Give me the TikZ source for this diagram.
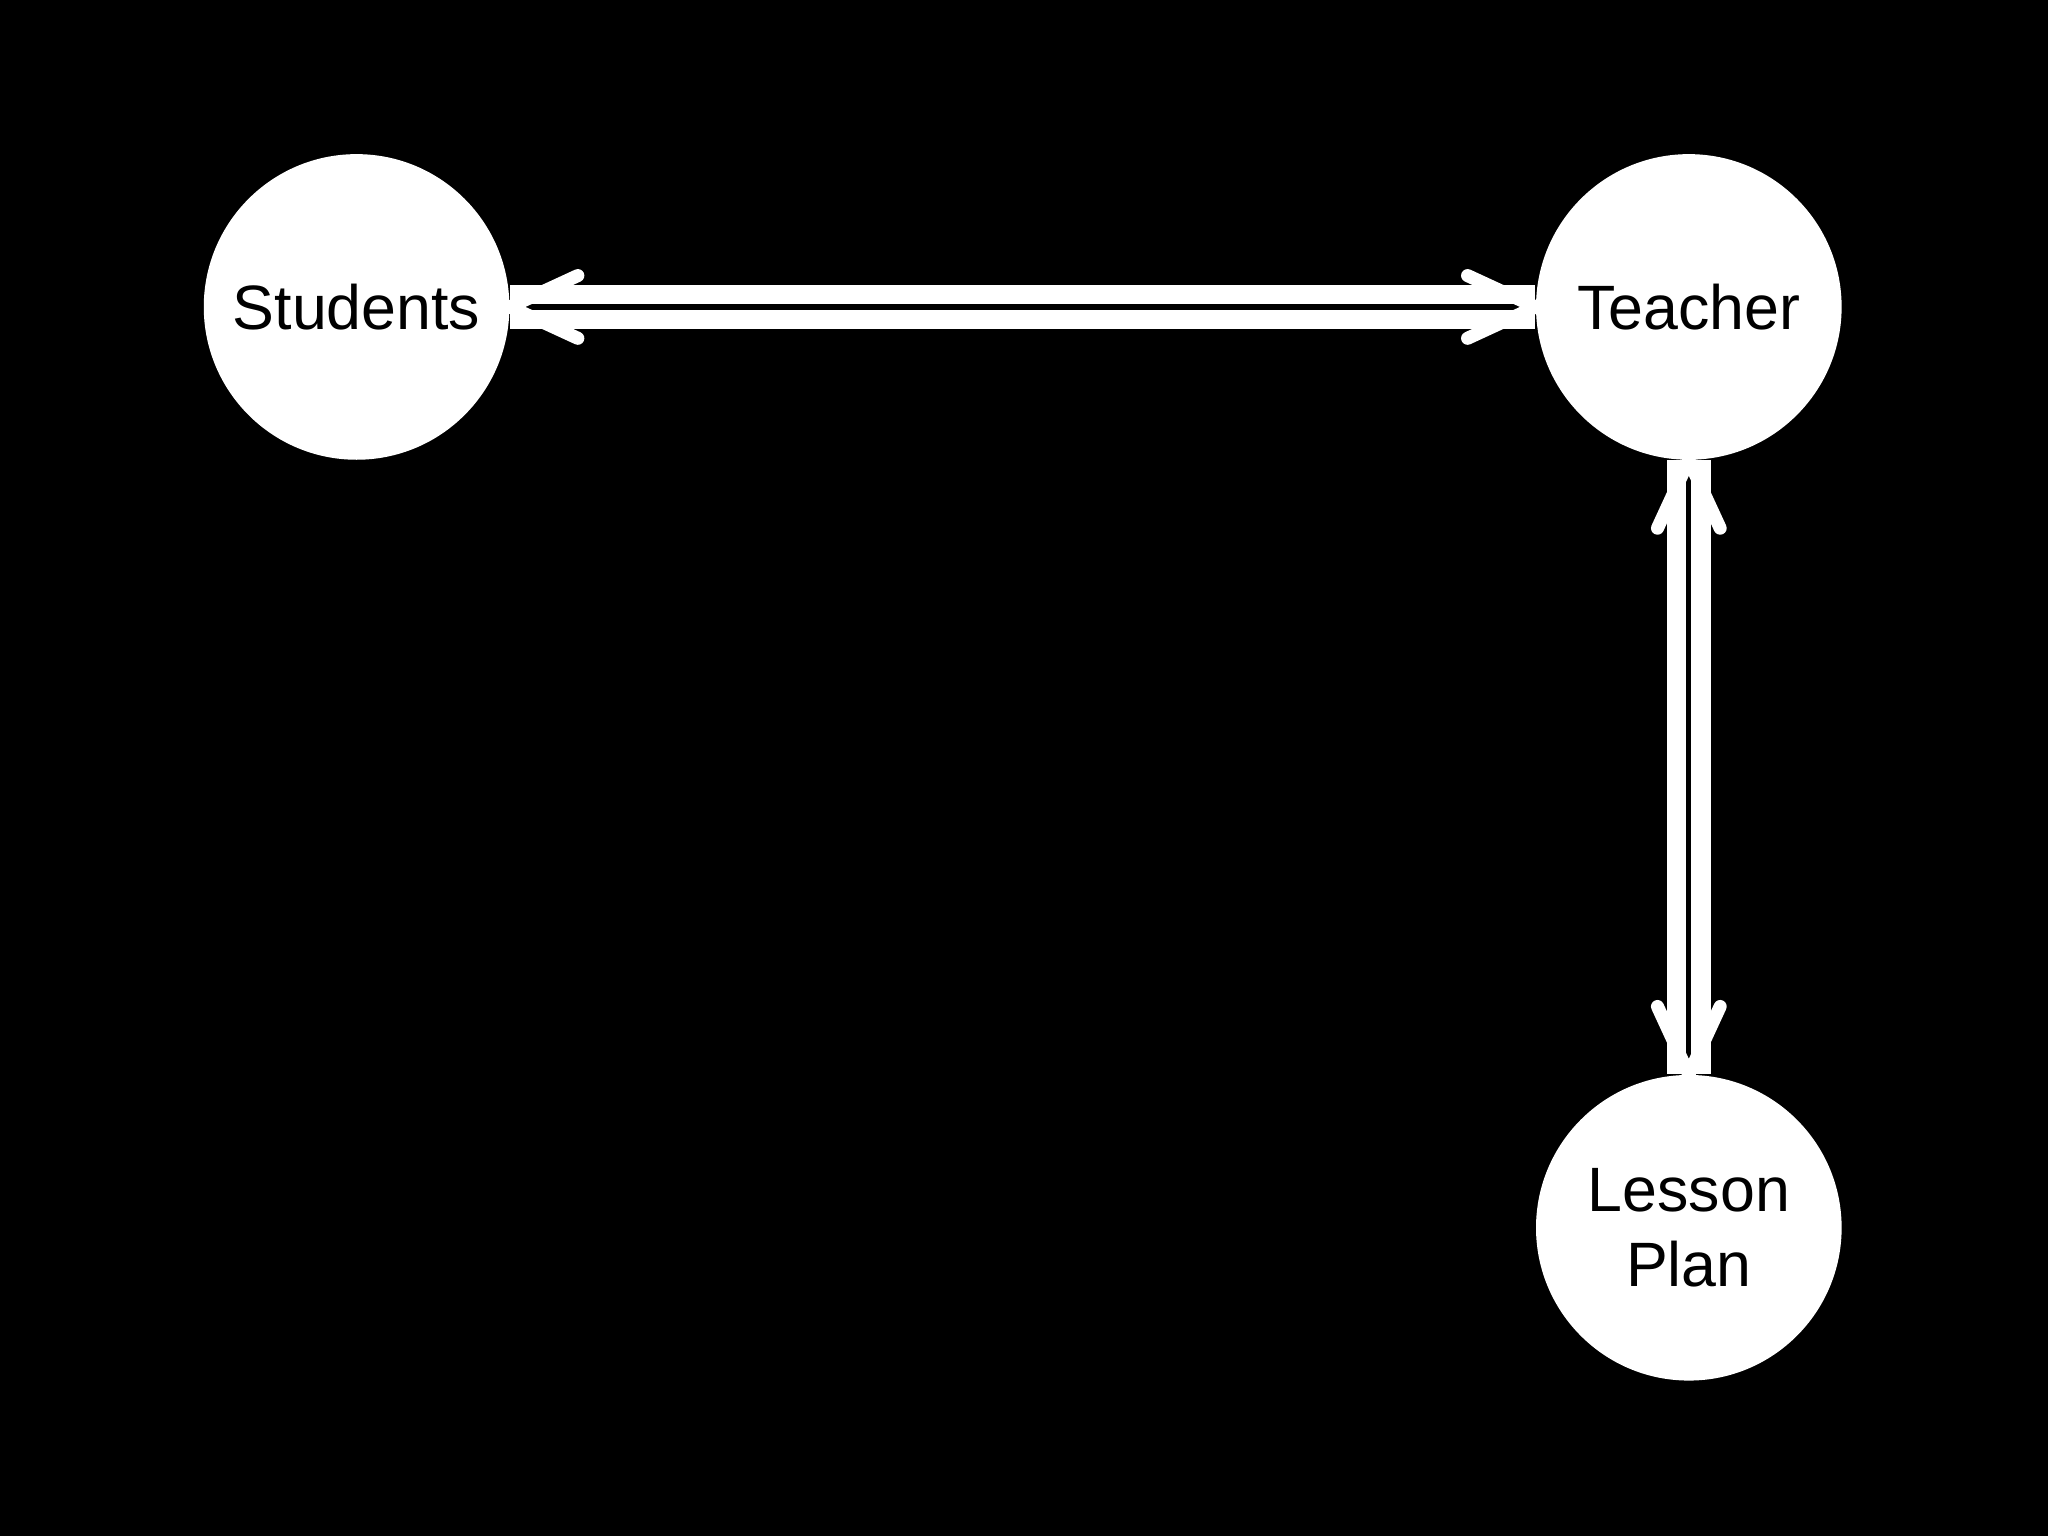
\documentclass[tikz,border=0pt]{standalone}
\usepackage{fontspec}
\setmainfont{Liberation Sans}
\usetikzlibrary{calc}
\begin{document}
\begin{tikzpicture}[x=0.5pt,y=-0.5pt,
  circ/.style={circle,fill=white,draw=none,minimum size=117pt,inner sep=0pt,align=center,font=\fontsize{24}{29}\selectfont,text=black},
  dbl/.style={draw=white,line width=7.5pt,double=black,double distance=2pt},
  tip/.style={draw=white,line width=5pt,line cap=round,line join=miter}]
\fill[black] (0,0) rectangle (1568,1176);
\useasboundingbox (0,0) rectangle (1568,1176);
\node[circ] (s) at (273,235) {Students};
\node[circ] (t) at (1293,235) {Teacher};
\node[circ] (l) at (1293,940) {Lesson\\Plan};
\draw[dbl] (s.east) -- (t.west);
\draw[dbl] (t.south) -- (l.north);
\draw[tip] ($(s.east)+(52,-24)$) -- (s.east) -- ($(s.east)+(52,24)$);
\draw[tip] ($(t.west)+(-52,-24)$) -- (t.west) -- ($(t.west)+(-52,24)$);
\draw[tip] ($(t.south)+(-24,52)$) -- (t.south) -- ($(t.south)+(24,52)$);
\draw[tip] ($(l.north)+(-24,-52)$) -- (l.north) -- ($(l.north)+(24,-52)$);
\end{tikzpicture}
\end{document}
